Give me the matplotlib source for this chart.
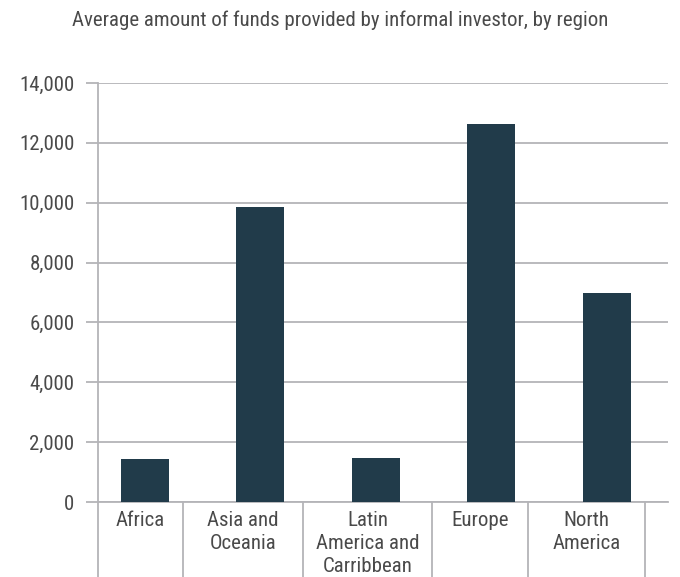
import matplotlib
matplotlib.use("Agg")
import matplotlib.pyplot as plt
import matplotlib.transforms as mtransforms
from matplotlib import font_manager

# data
regions = ["Africa", "Asia and\nOceania", "Latin\nAmerica and\nCarribbean", "Europe", "North\nAmerica"]
avg_funds = [1450, 9870, 1480, 12620, 7000]
y_ticks = [0, 2000, 4000, 6000, 8000, 10000, 12000, 14000]
# category cell borders (data units, the cells are not even in the original)
cell_edges = [-0.407, 0.33, 1.37, 2.49, 3.32, 4.33]

names = {f.name for f in font_manager.fontManager.ttflist}
prefs = ["Roboto Condensed", "Archivo Narrow", "PT Sans Narrow", "Liberation Sans Narrow"]
family = next((p for p in prefs if p in names), "DejaVu Sans")
plt.rcParams["font.family"] = [family, "DejaVu Sans"]

bar_color = "#213b4a"
grid_color = "#b4b4b8"
text_color = "#4a4a4a"

fig = plt.figure(figsize=(6.8, 5.77), dpi=100)
ax = fig.add_axes([98 / 680, 75 / 577, 570 / 680, 419 / 577])

x = list(range(len(regions)))
ax.bar(x, avg_funds, width=0.415, color=bar_color, zorder=3)

ax.set_xlim(-0.407, 4.53)
ax.set_ylim(0, 14000)
ax.set_yticks(y_ticks)
ax.set_yticklabels([f"{v:,}" for v in y_ticks])
ax.yaxis.grid(True, color=grid_color, linewidth=1.3, zorder=0)
ax.tick_params(axis="y", length=9, width=1.3, color=grid_color, labelsize=15,
               labelcolor=text_color, pad=8)
ax.tick_params(axis="x", bottom=False, labelbottom=False)
for side in ["top", "right"]:
    ax.spines[side].set_visible(False)
ax.spines["left"].set_color(grid_color)
ax.spines["left"].set_linewidth(1.3)
ax.spines["bottom"].set_color(grid_color)
ax.spines["bottom"].set_linewidth(1.3)

# category separators below the axis
trans = mtransforms.blended_transform_factory(ax.transData, ax.transAxes)
ax.vlines(cell_edges, -0.2, 0, transform=trans, color=grid_color,
          linewidth=1.3, clip_on=False)

# category labels centred in their cells
for i, label in enumerate(regions):
    cx = (cell_edges[i] + cell_edges[i + 1]) / 2
    ax.text(cx, -0.022, label, transform=trans, ha="center", va="top",
            fontsize=15, color=text_color, linespacing=1.25)

fig.text(0.5, 1 - 20 / 577, "Average amount of funds provided by informal investor, by region",
         ha="center", va="center", fontsize=15, color=text_color)

fig.savefig("out.png", dpi=100)
